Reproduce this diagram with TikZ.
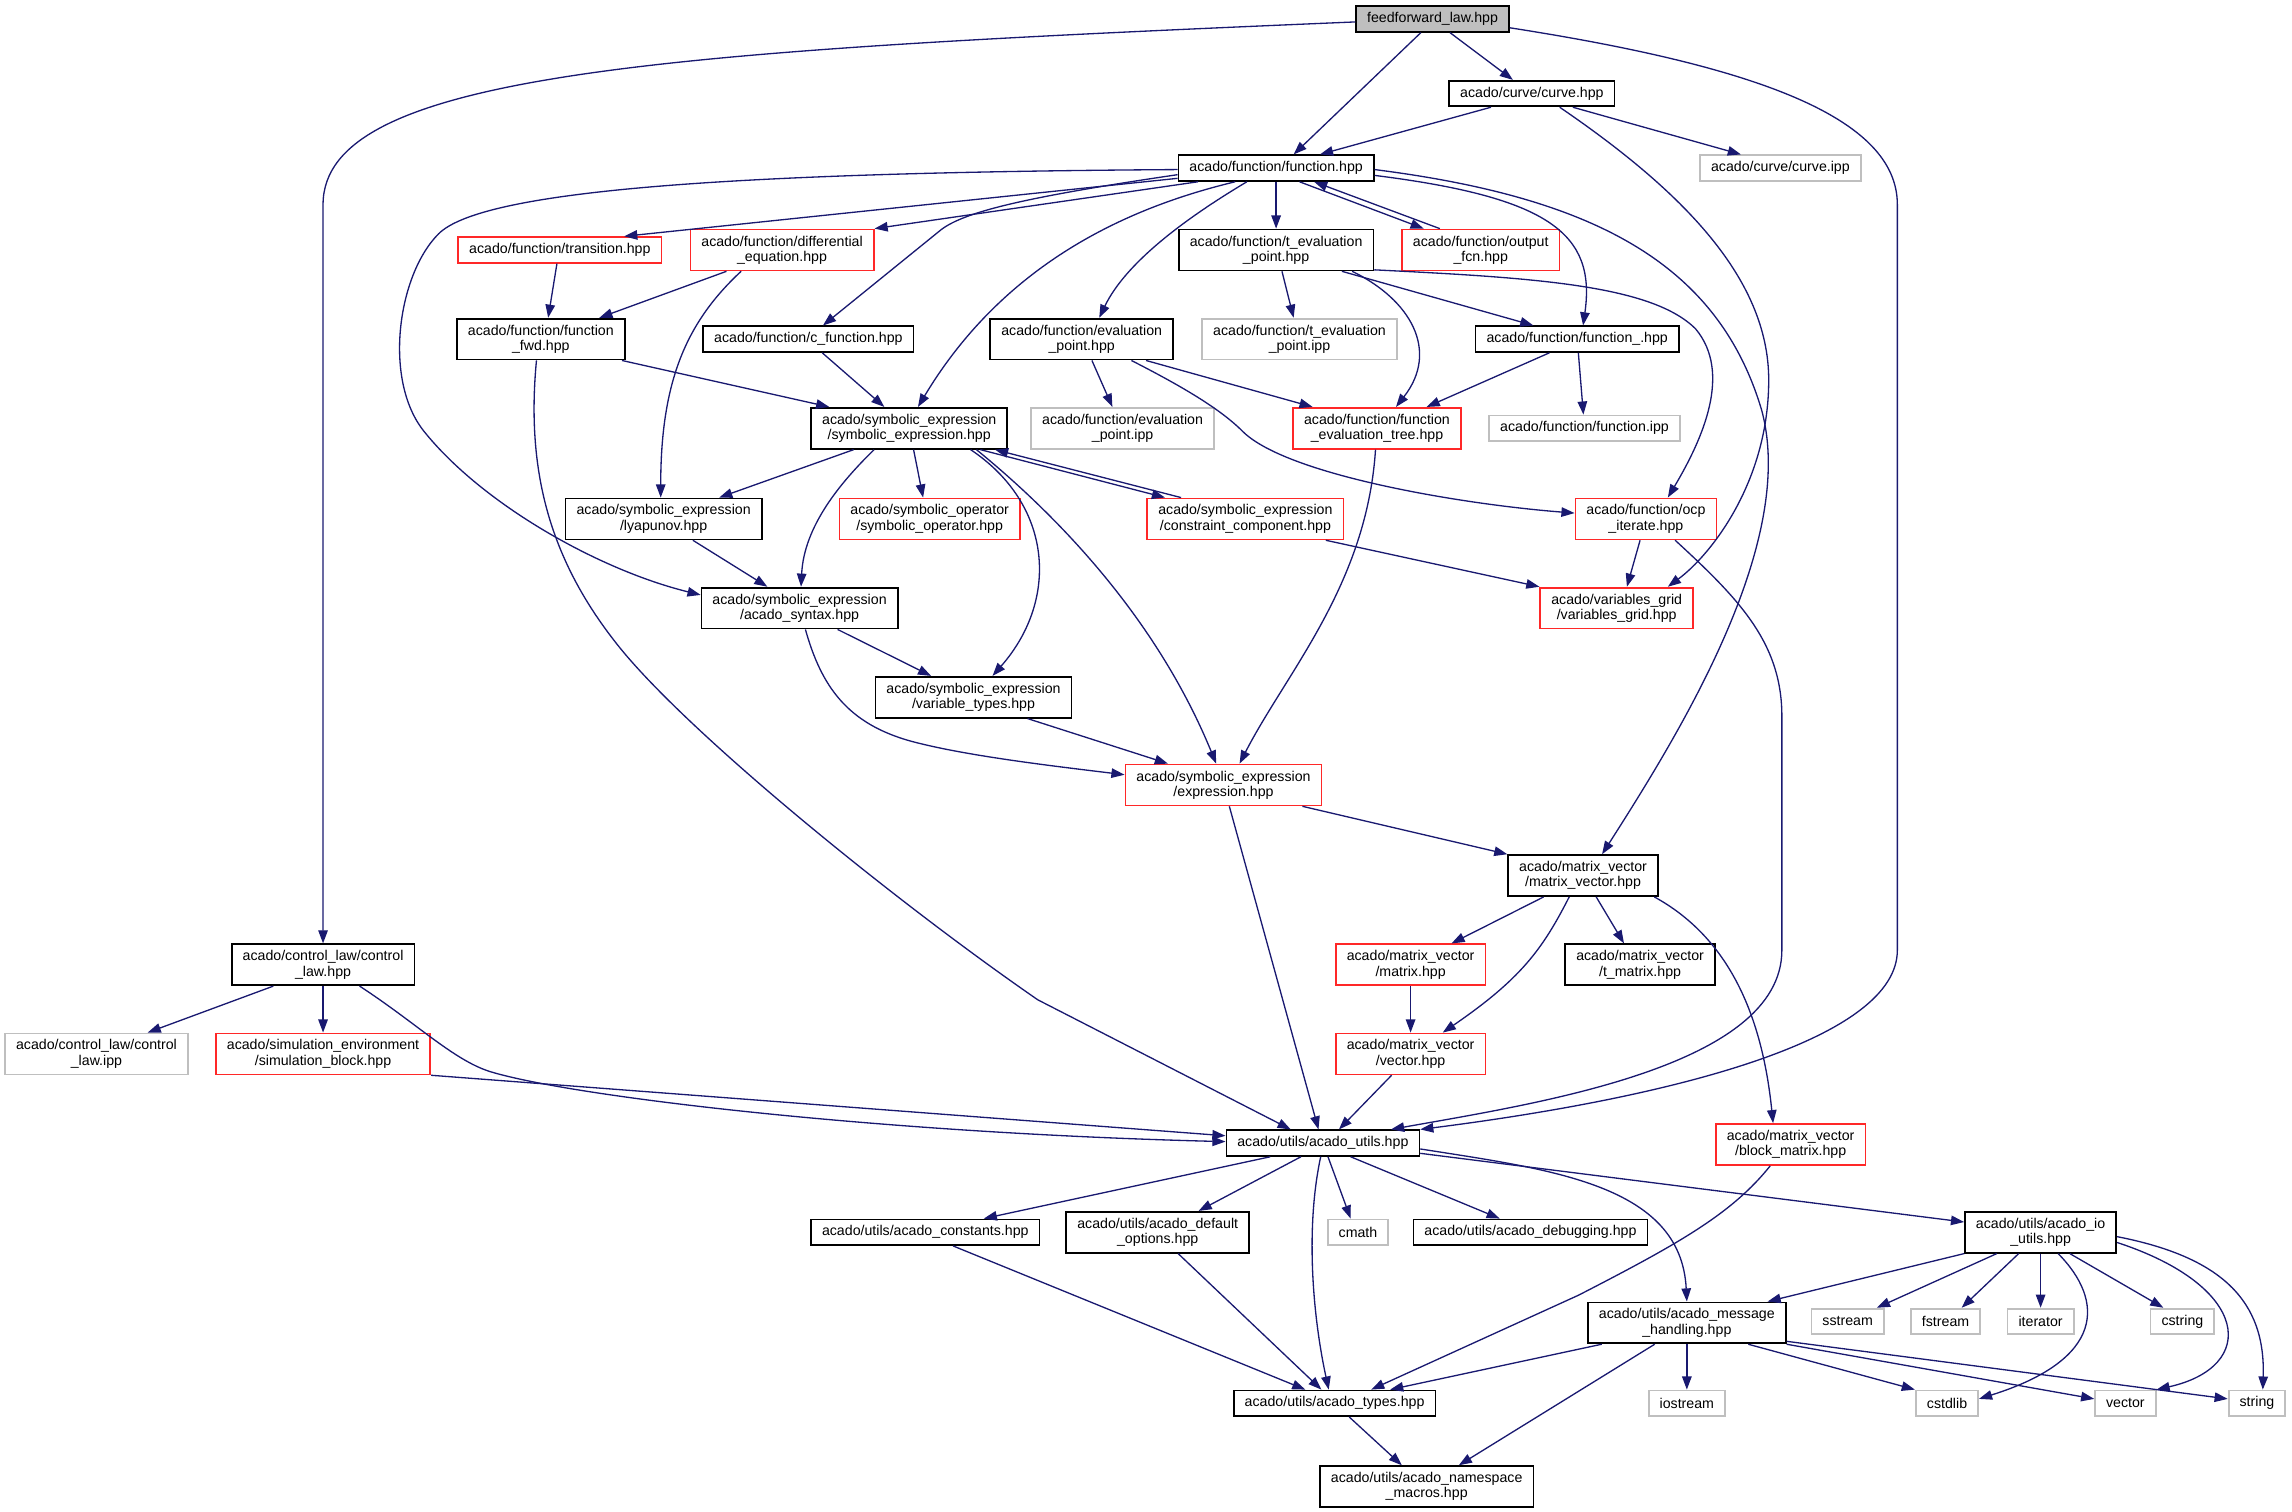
\documentclass[tikz,border=0pt]{standalone}
\usepackage{fontspec}
\setmainfont{Liberation Sans}
\usetikzlibrary{arrows.meta}
\definecolor{edgeblue}{HTML}{191970}
\definecolor{truncred}{HTML}{FF2828}
\definecolor{sysgray}{HTML}{BFBFBF}

\begin{document}
\begin{tikzpicture}[x=1pt, y=-1pt,
    incl/.style={rectangle, draw=black, line width=1.2pt, fill=white, font=\fontsize{9.7}{10.4}\selectfont, inner xsep=7.5pt, inner ysep=1pt, minimum height=17.5pt, align=center},
    two/.style={minimum height=28pt},
    inclred/.style={incl, draw=truncred},
    inclgray/.style={incl, draw=sysgray},
    rootbox/.style={incl, fill=sysgray},
    dep/.style={draw=edgeblue, line width=0.9pt, -{Triangle[length=9pt, width=6.5pt]}}]
  \useasboundingbox (0,0) rectangle (1568,1034);

  \node[rootbox] (ff) at (980,13) {feedforward\_law.hpp};
  \node[incl] (curve) at (1048,64) {acado/curve/curve.hpp};
  \node[incl] (fn) at (873,115) {acado/function/function.hpp};
  \node[inclgray] (cipp) at (1218,115) {acado/curve/curve.ipp};
  \node[inclred] (trans) at (383,171) {acado/function/transition.hpp};
  \node[inclred, two] (diffeq) at (535,171) {acado/function/differential\\\_equation.hpp};
  \node[incl, two] (tevalpt) at (873,171) {acado/function/t\_evaluation\\\_point.hpp};
  \node[inclred, two] (outfcn) at (1013,171) {acado/function/output\\\_fcn.hpp};
  \node[incl, two] (fnfwd) at (370,232) {acado/function/function\\\_fwd.hpp};
  \node[incl] (cfn) at (553,232) {acado/function/c\_function.hpp};
  \node[incl, two] (evalpt) at (740,232) {acado/function/evaluation\\\_point.hpp};
  \node[inclgray, two] (tevalipp) at (889,232) {acado/function/t\_evaluation\\\_point.ipp};
  \node[incl] (fnu) at (1079,232) {acado/function/function\_.hpp};
  \node[incl, two] (symexpr) at (622,293) {acado/symbolic\_expression\\/symbolic\_expression.hpp};
  \node[inclgray, two] (evalipp) at (768,293) {acado/function/evaluation\\\_point.ipp};
  \node[inclred, two] (evaltree) at (942,293) {acado/function/function\\\_evaluation\_tree.hpp};
  \node[inclgray] (fnipp) at (1084,293) {acado/function/function.ipp};
  \node[incl, two] (lyap) at (454,355) {acado/symbolic\_expression\\/lyapunov.hpp};
  \node[inclred, two] (symop) at (636,355) {acado/symbolic\_operator\\/symbolic\_operator.hpp};
  \node[inclred, two] (constr) at (852,355) {acado/symbolic\_expression\\/constraint\_component.hpp};
  \node[inclred, two] (ocp) at (1126,355) {acado/function/ocp\\\_iterate.hpp};
  \node[incl, two] (syntax) at (547,416) {acado/symbolic\_expression\\/acado\_syntax.hpp};
  \node[inclred, two] (vargrid) at (1106,416) {acado/variables\_grid\\/variables\_grid.hpp};
  \node[incl, two] (vartypes) at (666,477) {acado/symbolic\_expression\\/variable\_types.hpp};
  \node[inclred, two] (expr) at (837,537) {acado/symbolic\_expression\\/expression.hpp};
  \node[incl, two] (mv) at (1083,599) {acado/matrix\_vector\\/matrix\_vector.hpp};
  \node[incl, two] (ctrl) at (221,660) {acado/control\_law/control\\\_law.hpp};
  \node[inclred, two] (matrix) at (965,660) {acado/matrix\_vector\\/matrix.hpp};
  \node[incl, two] (tmatrix) at (1122,660) {acado/matrix\_vector\\/t\_matrix.hpp};
  \node[inclgray, two] (ctrlipp) at (66,721) {acado/control\_law/control\\\_law.ipp};
  \node[inclred, two] (simblock) at (221,721) {acado/simulation\_environment\\/simulation\_block.hpp};
  \node[inclred, two] (vector) at (965,721) {acado/matrix\_vector\\/vector.hpp};
  \node[incl] (utils) at (905,782) {acado/utils/acado\_utils.hpp};
  \node[inclred, two] (blockm) at (1225,783) {acado/matrix\_vector\\/block\_matrix.hpp};
  \node[incl] (consts) at (633,843) {acado/utils/acado\_constants.hpp};
  \node[incl, two] (defopts) at (792,843) {acado/utils/acado\_default\\\_options.hpp};
  \node[inclgray] (cmath) at (929,843) {cmath};
  \node[incl] (debug) at (1047,843) {acado/utils/acado\_debugging.hpp};
  \node[incl, two] (ioutils) at (1396,843) {acado/utils/acado\_io\\\_utils.hpp};
  \node[incl, two] (msg) at (1154,905) {acado/utils/acado\_message\\\_handling.hpp};
  \node[inclgray] (sstream) at (1264,904) {sstream};
  \node[inclgray] (fstream) at (1331,904) {fstream};
  \node[inclgray] (iterator) at (1396,904) {iterator};
  \node[inclgray] (cstring) at (1493,904) {cstring};
  \node[incl] (types) at (913,960) {acado/utils/acado\_types.hpp};
  \node[inclgray] (iostream) at (1154,960) {iostream};
  \node[inclgray] (cstdlib) at (1332,960) {cstdlib};
  \node[inclgray] (vecstd) at (1454,960) {vector};
  \node[inclgray] (string) at (1544,960) {string};
  \node[incl, two] (macros) at (976,1017) {acado/utils/acado\_namespace\\\_macros.hpp};

  \draw[dep] ([xshift=-8pt]ff.south) -- ([xshift=12pt]fn.north);
  \draw[dep] ([xshift=12pt]ff.south) -- ([xshift=-13pt]curve.north);
  \draw[dep] ([yshift=-2pt]ff.west) .. controls (450,35) and (221,50) .. (221,140) -- (ctrl);
  \draw[dep] ([yshift=-6pt]ff.east) .. controls (1200,45) and (1298,80) .. (1298,140) -- (1298,650) .. controls (1298,710) and (1150,750) .. (utils.north east);
  \draw[dep] ([xshift=-28pt]curve.south) -- ([xshift=30pt]fn.north);
  \draw[dep] ([xshift=28pt]curve.south) -- ([xshift=-27pt]cipp.north);
  \draw[dep] ([xshift=19pt]curve.south) .. controls (1150,130) and (1210,190) .. (1210,260) .. controls (1210,330) and (1170,380) .. ([xshift=35pt]vargrid.north);

  \draw[dep] ([yshift=-1pt]fn.east) .. controls (1090,135) and (1175,180) .. (1205,280) .. controls (1230,370) and (1150,500) .. ([xshift=13pt]mv.north);
  \draw[dep] ([yshift=-7pt]fn.west) -- ([xshift=44pt]trans.north);
  \draw[dep] ([xshift=14pt]fn.south west) -- (diffeq.north east);
  \draw[dep] ([yshift=-1pt]fn.west) .. controls (500,118) and (330,130) .. (300,160) .. controls (272,188) and (262,260) .. (290,295) .. controls (330,345) and (410,390) .. ([yshift=9pt]syntax.west);
  \draw[dep] ([yshift=-4.5pt]fn.west) .. controls (700,135) and (660,145) .. (644,157) -- ([xshift=10pt]cfn.north);
  \draw[dep] ([xshift=-28pt]fn.south) .. controls (780,140) and (690,175) .. ([xshift=6pt]symexpr.north);
  \draw[dep] ([xshift=-20pt]fn.south) .. controls (810,150) and (770,180) .. ([xshift=12pt]evalpt.north);
  \draw[dep] (fn) -- (tevalpt);
  \draw[dep] ([xshift=16pt]fn.south) -- ([xshift=-39pt]outfcn.north);
  \draw[dep] ([xshift=-28pt]outfcn.north) -- ([xshift=26pt]fn.south);
  \draw[dep] ([yshift=-5pt]fn.east) .. controls (1060,135) and (1092,160) .. ([xshift=4pt]fnu.north);

  \draw[dep] ([xshift=4pt]tevalpt.south) -- ([xshift=-4pt]tevalipp.north);
  \draw[dep] ([xshift=45pt]tevalpt.south) -- ([xshift=-30pt]fnu.north);
  \draw[dep] ([xshift=52pt]tevalpt.south) .. controls (965,205) and (985,240) .. ([xshift=13pt]evaltree.north);
  \draw[dep] ([yshift=1pt]tevalpt.south east) .. controls (1050,190) and (1130,195) .. (1160,225) .. controls (1185,255) and (1165,300) .. ([xshift=15pt]ocp.north);

  \draw[dep] ([xshift=7pt]evalpt.south) -- ([xshift=-7pt]evalipp.north);
  \draw[dep] ([xshift=44pt]evalpt.south) -- ([xshift=-44pt]evaltree.north);
  \draw[dep] ([xshift=34pt]evalpt.south) .. controls (810,265) and (835,280) .. (850,295) .. controls (880,325) and (1000,345) .. ([yshift=4pt]ocp.west);

  \draw[dep] (fnu) -- (fnipp);
  \draw[dep] ([xshift=-19pt]fnu.south) -- ([xshift=34pt]evaltree.north);
  \draw[dep] ([xshift=-1pt]evaltree.south) .. controls (935,400) and (880,460) .. ([xshift=11pt]expr.north);

  \draw[dep] ([xshift=-2pt]trans.south) -- ([xshift=5pt]fnfwd.north);
  \draw[dep] ([xshift=-38pt]diffeq.south) -- ([xshift=40pt]fnfwd.north);
  \draw[dep] ([xshift=-28pt]diffeq.south) .. controls (470,220) and (452,260) .. ([xshift=-2pt]lyap.north);
  \draw[dep] ([xshift=-2.5pt]fnfwd.south east) -- ([xshift=13pt]symexpr.north west);
  \draw[dep] ([xshift=-3pt]fnfwd.south) .. controls (360,320) and (375,380) .. (420,438) .. controls (465,497) and (610,615) .. (710,684) -- ([xshift=-22pt]utils.north);
  \draw[dep] ([xshift=9.5pt]cfn.south) -- ([xshift=-17pt]symexpr.north);

  \draw[dep] ([xshift=-38pt]symexpr.south) -- ([xshift=38pt]lyap.north);
  \draw[dep] ([xshift=3pt]symexpr.south) -- ([xshift=-4.5pt]symop.north);
  \draw[dep] ([xshift=-24pt]symexpr.south) .. controls (575,330) and (550,360) .. ([xshift=1pt]syntax.north);
  \draw[dep] ([xshift=42pt]symexpr.south) .. controls (720,345) and (725,410) .. ([xshift=13pt]vartypes.north);
  \draw[dep] ([xshift=46pt]symexpr.south) .. controls (720,350) and (790,420) .. ([xshift=-5pt]expr.north);
  \draw[dep] ([xshift=-19pt]symexpr.south east) -- ([xshift=-55pt]constr.north);
  \draw[dep] ([xshift=-44pt]constr.north) -- ([xshift=-9pt]symexpr.south east);

  \draw[dep] ([xshift=20pt]lyap.south) -- ([xshift=-22pt]syntax.north);
  \draw[dep] ([xshift=55pt]constr.south) -- (vargrid.north west);
  \draw[dep] ([xshift=-4pt]ocp.south) -- ([xshift=7pt]vargrid.north);
  \draw[dep] ([xshift=20pt]ocp.south) .. controls (1190,410) and (1219,440) .. (1219,490) -- (1219,650) .. controls (1219,730) and (1050,755) .. ([xshift=-20pt]utils.north east);

  \draw[dep] ([xshift=26pt]syntax.south) -- ([xshift=-29pt]vartypes.north);
  \draw[dep] ([xshift=4pt]syntax.south) .. controls (562,470) and (580,495) .. (623,507) .. controls (660,517) and (720,524) .. ([yshift=7pt]expr.west);
  \draw[dep] ([xshift=37pt]vartypes.south) -- ([xshift=-38pt]expr.north);
  \draw[dep] ([xshift=54pt]expr.south) -- (mv.north west);
  \draw[dep] ([xshift=4pt]expr.south) -- ([xshift=-3pt]utils.north);

  \draw[dep] ([xshift=-27pt]mv.south) -- ([xshift=28pt]matrix.north);
  \draw[dep] ([xshift=9pt]mv.south) -- ([xshift=-11pt]tmatrix.north);
  \draw[dep] ([xshift=-9.5pt]mv.south) .. controls (1055,650) and (1040,670) .. ([xshift=22pt]vector.north);
  \draw[dep] ([xshift=-3pt]mv.south east) .. controls (1180,640) and (1205,690) .. ([xshift=-12pt]blockm.north);
  \draw[dep] (matrix) -- (vector);
  \draw[dep] ([xshift=-13pt]vector.south) -- ([xshift=11pt]utils.north);

  \draw[dep] ([xshift=-34pt]ctrl.south) -- ([xshift=35pt]ctrlipp.north);
  \draw[dep] (ctrl) -- (simblock);
  \draw[dep] ([xshift=25pt]ctrl.south) .. controls (285,700) and (310,725) .. (335,733) .. controls (390,750) and (600,775) .. ([yshift=1pt]utils.west);
  \draw[dep] (simblock.south east) -- ([yshift=5pt]utils.west);
  \draw[dep] ([xshift=-14pt]blockm.south) .. controls (1185,830) and (1150,850) .. (1080,886) -- ([xshift=25pt]types.north);

  \draw[dep] ([xshift=-36pt]utils.south) -- ([xshift=40pt]consts.north);
  \draw[dep] ([xshift=-15pt]utils.south) -- ([xshift=28pt]defopts.north);
  \draw[dep] ([xshift=3.5pt]utils.south) -- ([xshift=-5pt]cmath.north);
  \draw[dep] ([xshift=19pt]utils.south) -- ([xshift=-21pt]debug.north);
  \draw[dep] ([xshift=-1.5pt]utils.south) .. controls (893,840) and (898,900) .. ([xshift=-4pt]types.north);
  \draw[dep] ([yshift=-4pt]utils.east) .. controls (1060,800) and (1150,810) .. (msg.north);
  \draw[dep] ([yshift=-7pt]utils.east) -- ([yshift=7pt]ioutils.west);

  \draw[dep] (ioutils.south west) -- ([xshift=-13pt]msg.north east);
  \draw[dep] ([xshift=-30pt]ioutils.south) -- ([xshift=20pt]sstream.north);
  \draw[dep] ([xshift=-15pt]ioutils.south) -- ([xshift=11pt]fstream.north);
  \draw[dep] (ioutils) -- (iterator);
  \draw[dep] ([xshift=20pt]ioutils.south) -- ([xshift=-13pt]cstring.north);
  \draw[dep] ([xshift=12pt]ioutils.south) .. controls (1440,890) and (1440,930) .. ([yshift=3pt]cstdlib.east);
  \draw[dep] ([yshift=-7pt]ioutils.east) .. controls (1540,880) and (1545,935) .. (vecstd.north east);
  \draw[dep] ([yshift=-3pt]ioutils.east) .. controls (1520,860) and (1550,890) .. ([xshift=4pt]string.north);

  \draw[dep] ([xshift=10pt]msg.south west) -- ([xshift=38pt]types.north);
  \draw[dep] (msg) -- (iostream);
  \draw[dep] ([xshift=42pt]msg.south) -- ([xshift=-22pt]cstdlib.north);
  \draw[dep] (msg.south east) -- ([yshift=3pt]vecstd.west);
  \draw[dep] ([yshift=2pt]msg.south east) -- ([yshift=3pt]string.west);
  \draw[dep] ([xshift=-22pt]msg.south) -- ([xshift=22pt]macros.north);
  \draw[dep] ([xshift=10pt]types.south) -- ([xshift=-17pt]macros.north);
  \draw[dep] ([xshift=19pt]consts.south) -- ([xshift=-20pt]types.north);
  \draw[dep] ([xshift=14pt]defopts.south) -- ([xshift=-9pt]types.north);
\end{tikzpicture}
\end{document}
